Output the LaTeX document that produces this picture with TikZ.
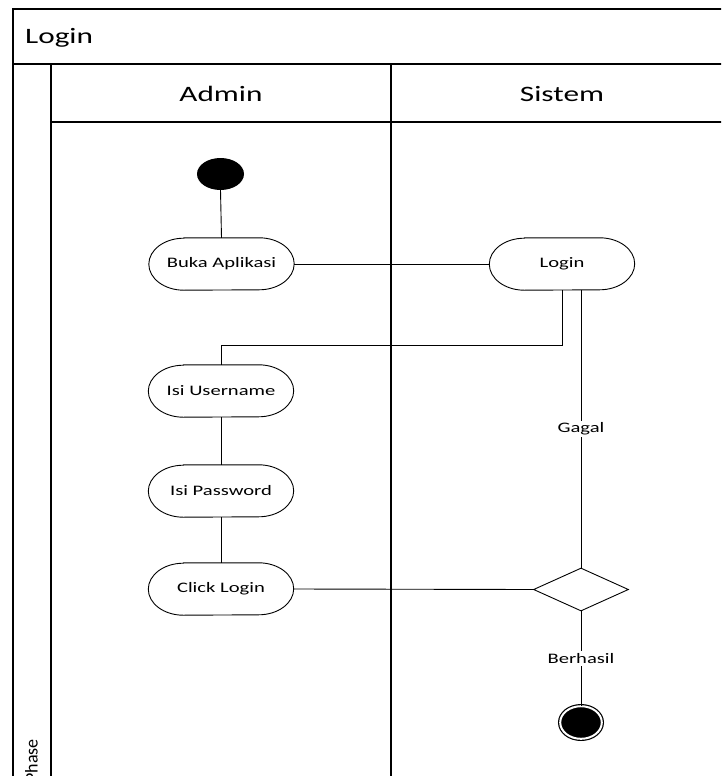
\documentclass[tikz,border=0pt]{standalone}
\usepackage{fontspec}
\setmainfont{Carlito}[FakeStretch=1.42]
\newfontfamily\phasefont{Carlito}
\usetikzlibrary{shapes.geometric}
\begin{document}
\begin{tikzpicture}[x=1pt,y=1pt,
  frame/.style={line width=1.6pt},
  conn/.style={line width=0.9pt},
  act/.style={minimum width=145pt, minimum height=52pt, inner sep=0pt, font=\fontsize{14.5}{17}\selectfont},
  actline/.style={line width=0.9pt},
  lbl/.style={fill=white, inner sep=2pt, font=\fontsize{14.5}{17}\selectfont},
  hdr/.style={font=\fontsize{22}{26}\selectfont, inner sep=0pt}]
\useasboundingbox (0,0) rectangle (721,-776);
\clip (0,0) rectangle (721,-776);
\fill[white] (0,0) rectangle (721,-776);
% frame
\draw[frame] (740,-9) -- (13,-9) -- (13,-800);
\draw[frame] (13,-64) -- (740,-64);
\draw[frame] (51,-64) -- (51,-800);
\draw[frame] (391,-64) -- (391,-800);
\draw[frame] (51,-122) -- (740,-122);
\node[hdr, anchor=base west] (title) at (25,-44) {Login};
\node[hdr, anchor=base] (admin) at (221,-101) {Admin};
\node[hdr, anchor=base] (sistem) at (562,-101) {Sistem};
\node[inner sep=0pt, rotate=90, anchor=east, font=\phasefont\fontsize{18}{20}\selectfont] (phase) at (31.5,-739) {Phase};
% nodes
\node[ellipse, fill=black, minimum width=47pt, minimum height=32pt, inner sep=0pt] (start) at (220.5,-174) {};
\node[act] (buka) at (221.5,-264) {Buka Aplikasi};
\node[act] (login) at (562,-264) {Login};
\node[act] (user) at (221,-391) {Isi Username};
\node[act] (pass) at (221,-491) {Isi Password};
\node[act] (click) at (221,-589) {Click Login};
\node[diamond, draw, line width=0.9pt, minimum width=95pt, minimum height=43pt, inner sep=0pt] (dia) at (581,-589.5) {};
\node[ellipse, fill=black, draw=black, double=white, double distance=2pt, line width=1.2pt, minimum width=41.6pt, minimum height=32.6pt, inner sep=0pt] (end) at (581,-722.5) {};
\foreach \n in {buka,login,user,pass,click}{
  \draw[actline] ([xshift=35pt]\n.north west) -- ([xshift=-35pt]\n.north east)
    arc[start angle=90, end angle=-90, x radius=35pt, y radius=26pt]
    -- ([xshift=35pt]\n.south west)
    arc[start angle=270, end angle=90, x radius=35pt, y radius=26pt] -- cycle;
}
% connectors
\coordinate (k) at (562,-345);
\draw[conn] (start.south) -- (buka.north);
\draw[conn] (buka.east) -- (login.west);
\draw[conn] (login.south) -- (k) -| (user.north);
\draw[conn] (login.south -| dia.north) -- node[lbl] (gagal) {Gagal} (dia.north);
\draw[conn] (user.south) -- (pass.north);
\draw[conn] (pass.south) -- (click.north);
\draw[conn] (click.east) -- (dia.west);
\draw[conn] (dia.south) -- node[lbl] (berhasil) {Berhasil} (end.north);
\end{tikzpicture}
\end{document}
